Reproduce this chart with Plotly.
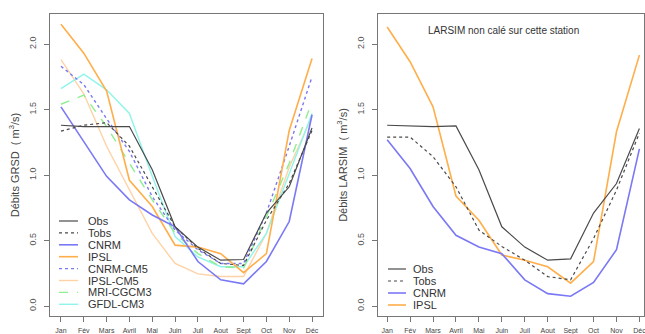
import plotly.graph_objects as go
from plotly.subplots import make_subplots

months = ["Jan", "Fév", "Mars", "Avril", "Mai", "Juin", "Juil", "Aout", "Sept", "Oct", "Nov", "Déc"]
xnum = list(range(1, 13))

# Left panel (GRSD)
grsd_obs = [1.38, 1.37, 1.37, 1.37, 1.04, 0.605, 0.45, 0.35, 0.355, 0.71, 0.91, 1.36]
grsd_tobs = [1.335, 1.38, 1.40, 1.22, 0.91, 0.605, 0.44, 0.325, 0.31, 0.655, 0.935, 1.34]
grsd_cnrm = [1.52, 1.255, 0.99, 0.81, 0.695, 0.605, 0.34, 0.20, 0.17, 0.34, 0.645, 1.46]
grsd_ipsl = [2.15, 1.93, 1.64, 0.96, 0.76, 0.465, 0.45, 0.40, 0.255, 0.40, 1.34, 1.89]
grsd_cnrm_cm5 = [1.83, 1.69, 1.43, 1.18, 0.835, 0.58, 0.43, 0.325, 0.325, 0.71, 1.22, 1.75]
grsd_ipsl_cm5 = [1.88, 1.62, 1.22, 0.885, 0.555, 0.325, 0.245, 0.225, 0.225, 0.555, 1.06, 1.445]
grsd_mri = [1.54, 1.61, 1.37, 1.09, 0.81, 0.555, 0.40, 0.30, 0.29, 0.68, 1.09, 1.56]
grsd_gfdl = [1.66, 1.77, 1.65, 1.47, 0.99, 0.53, 0.375, 0.30, 0.30, 0.555, 1.01, 1.47]

# Right panel (LARSIM)
lar_obs = [1.38, 1.375, 1.37, 1.375, 1.04, 0.605, 0.45, 0.35, 0.36, 0.71, 0.935, 1.355]
lar_tobs = [1.29, 1.29, 1.14, 0.91, 0.58, 0.455, 0.35, 0.225, 0.20, 0.515, 0.885, 1.32]
lar_cnrm = [1.27, 1.05, 0.76, 0.54, 0.45, 0.40, 0.20, 0.095, 0.075, 0.18, 0.43, 1.20]
lar_ipsl = [2.13, 1.865, 1.52, 0.84, 0.655, 0.39, 0.35, 0.30, 0.175, 0.34, 1.33, 1.915]

yticks = [0.0, 0.5, 1.0, 1.5, 2.0]
ytext = ["0.0", "0.5", "1.0", "1.5", "2.0"]

styles = {
    "Obs": dict(color="#4a4a4a", width=1.2, dash="solid"),
    "Tobs": dict(color="#4a4a4a", width=1.2, dash="dot"),
    "CNRM": dict(color="#7a78f5", width=1.6, dash="solid"),
    "IPSL": dict(color="#ffae4a", width=1.6, dash="solid"),
    "CNRM-CM5": dict(color="#7a78f5", width=1.4, dash="dot"),
    "IPSL-CM5": dict(color="#ffd2a6", width=1.4, dash="solid"),
    "MRI-CGCM3": dict(color="#8fee8f", width=1.4, dash="dash"),
    "GFDL-CM3": dict(color="#8ff5ea", width=1.4, dash="solid"),
}

left_series = [("Obs", grsd_obs), ("Tobs", grsd_tobs), ("CNRM", grsd_cnrm), ("IPSL", grsd_ipsl),
               ("CNRM-CM5", grsd_cnrm_cm5), ("IPSL-CM5", grsd_ipsl_cm5),
               ("MRI-CGCM3", grsd_mri), ("GFDL-CM3", grsd_gfdl)]
right_series = [("Obs", lar_obs), ("Tobs", lar_tobs), ("CNRM", lar_cnrm), ("IPSL", lar_ipsl)]

fig = make_subplots(rows=1, cols=2)

order_left = ["IPSL-CM5", "GFDL-CM3", "MRI-CGCM3", "CNRM-CM5", "IPSL", "CNRM", "Tobs", "Obs"]
ldict = dict(left_series)
for name in order_left:
    fig.add_trace(go.Scatter(x=xnum, y=ldict[name], mode="lines", name=name,
                             line=styles[name], showlegend=False), row=1, col=1)
order_right = ["IPSL", "CNRM", "Tobs", "Obs"]
rdict = dict(right_series)
for name in order_right:
    fig.add_trace(go.Scatter(x=xnum, y=rdict[name], mode="lines", name=name,
                             line=styles[name], showlegend=False), row=1, col=2)

W, H = 645, 334
MT, MB = 14, 18
PH = H - MT - MB

def px2py(ypx):
    return (H - MB - ypx) / PH

shapes = []
annotations = []

def add_legend(entries, x0, x1, xt, y0, dy):
    for i, name in enumerate(entries):
        yp = px2py(y0 + i * dy)
        st = styles[name]
        shapes.append(dict(type="line", xref="paper", yref="paper",
                           x0=x0 / W, x1=x1 / W, y0=yp, y1=yp,
                           line=dict(color=st["color"], width=st["width"], dash=st["dash"])))
        annotations.append(dict(text=name, xref="paper", yref="paper", x=xt / W, y=yp,
                                xanchor="left", yanchor="middle", showarrow=False,
                                font=dict(size=11, color="#333333", family="Liberation Sans")))

add_legend([n for n, _ in left_series], 59, 78, 86, 221, 11.9)
add_legend([n for n, _ in right_series], 388, 406, 411, 269, 12.0)

annotations.append(dict(text="LARSIM non calé sur cette station", xref="paper", yref="paper",
                        x=503 / W, y=px2py(30), xanchor="center", yanchor="middle", showarrow=False,
                        font=dict(size=10, color="#333333", family="Liberation Sans")))

axis_common = dict(showgrid=False, zeroline=False, showline=True, linecolor="#777777",
                   linewidth=1, mirror=True, ticks="outside", ticklen=5, tickcolor="#777777",
                   automargin=False, ticklabeloverflow="allow")

fig.update_xaxes(**axis_common, tickmode="array", tickvals=xnum, ticktext=months,
                 ticklabelstandoff=3,
                 tickfont=dict(size=7, color="#444444", family="Liberation Sans"), tickangle=0)
fig.update_yaxes(**axis_common, tickmode="array", tickvals=yticks, ticktext=ytext,
                 tickangle=-90, range=[-0.076, 2.229], ticklabelstandoff=4,
                 tickfont=dict(size=9, color="#555555", family="Liberation Sans"))

fig.update_layout(
    xaxis=dict(domain=[50 / W, 323 / W], range=[0.52, 12.48]),
    xaxis2=dict(domain=[378 / W, 644 / W], range=[0.6, 12.2]),
    yaxis=dict(title=dict(text="Débits GRSD  ( m<sup>3</sup>/s)", standoff=6,
                          font=dict(size=11, color="#444444", family="Liberation Sans"))),
    yaxis2=dict(title=dict(text="Débits LARSIM  ( m<sup>3</sup>/s)", standoff=6,
                           font=dict(size=11, color="#444444", family="Liberation Sans"))),
    width=W, height=H,
    margin=dict(l=0, r=0, t=MT, b=MB),
    paper_bgcolor="white", plot_bgcolor="white",
    shapes=shapes, annotations=annotations,
    showlegend=False,
)

fig.write_html("out.html", config={"displayModeBar": False},
               post_script="document.body.style.margin='0';")
